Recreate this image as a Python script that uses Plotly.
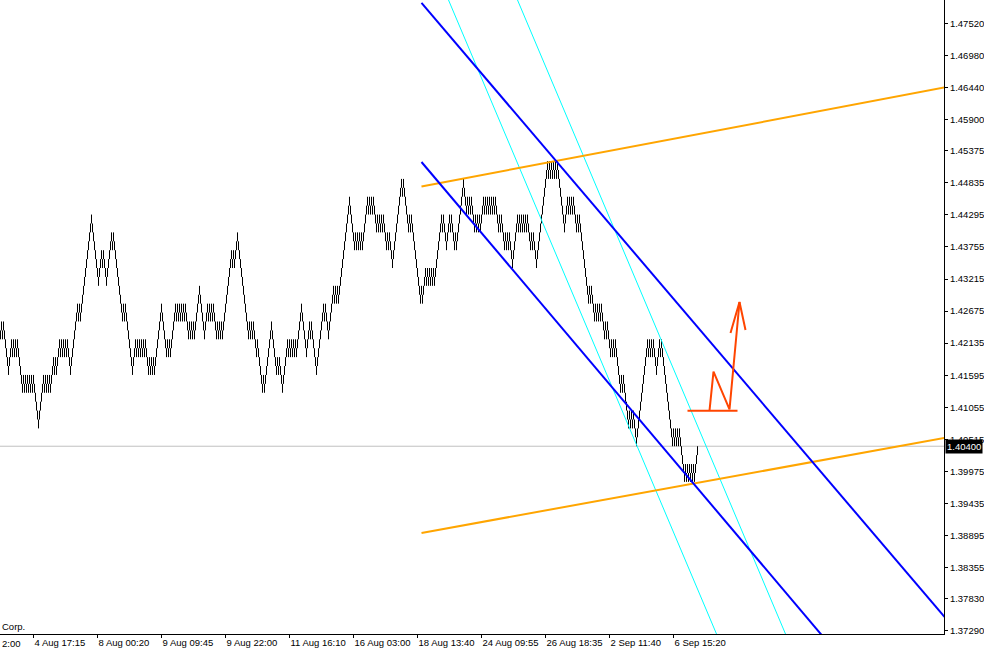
import plotly.graph_objects as go

# ---------------- data ----------------
BOX = 0.0015            # renko box size
LAST_CLOSE = 1.40400    # close of the last brick (current price)
START_LEVEL = 14        # close (in boxes above LAST_CLOSE) of the brick before the first one shown
START_DIR = "u"

# brick directions, left to right (one bar per pixel column)
brick_runs = [
    "dudud", "dddd", "uuu", "dududud", "dddd", "udududududu", "ddddd", "uuuu",
    "ududududu", "uu", "dudu", "uu", "dudududu", "ddd", "uuuuuu", "ududu",
    "uuuuuuuuuu", "ddddddd", "uuu", "du", "ddd", "uuuuu", "du", "dddddddd",
    "dudud", "dddddd", "uuu", "dududududud", "dd", "ududud", "uuuuuuu", "ddddd",
    "ududu", "uuuu", "dududududud", "dd", "ududud", "uuuuu", "ddddd", "uuu",
    "dududud", "dd", "ududud", "uuuuuuuu", "ududu", "uu", "dddddddddd", "dududu",
    "ddd", "ud", "dddd", "udu", "uuuuuu", "dddd", "dudud", "dd", "uuuuu",
    "dududududu", "uuuu", "ddddd", "uuu", "du", "ddddd", "uuuuuuu", "du", "ddd",
    "uuuuu", "dudud", "uuuuuuuuuuu", "ddddd", "ududududu", "uuuu", "dududu", "ddd",
    "udududud", "dd", "udud", "dd", "uuuuuuuuu", "du", "ddddd", "udud", "dddddddd",
    "ud", "uuu", "dududududu", "uuuuuu", "du", "ddd", "uuu", "du", "ddd", "ud",
    "uuuuuuu", "ddd", "ududud", "dd", "ududud", "uuu", "dudududududu", "ddd",
    "udud", "dd", "ududud", "dd", "uuuuu", "dududududud", "dd", "udud", "dd",
    "uuuuuuuuuuu", "dududududu", "ddddddd", "uuu", "dududud", "dd", "udud",
    "dddddddd", "udud", "dd", "udududud", "dd", "udud", "dd", "ududud", "dddd",
    "udud", "dddd", "ududud", "dd", "uuuuuuuuuuu", "dududud", "dd", "uuu", "dud",
    "ddddddddd", "dudududud", "dddd", "udududududu", "uu",
]

price_ticks = ["1.47520", "1.46980", "1.46440", "1.45900", "1.45375", "1.44835",
               "1.44295", "1.43755", "1.43215", "1.42675", "1.42135", "1.41595",
               "1.41055", "1.40515", "1.39975", "1.39435", "1.38895", "1.38355",
               "1.37830", "1.37290"]
time_tick_bars = [33, 97, 161, 225, 289, 353, 417, 481, 545, 609, 673]
time_tick_text = ["4 Aug 17:15", "8 Aug 00:20", "9 Aug 09:45", "9 Aug 22:00",
                  "11 Aug 16:10", "16 Aug 03:00", "18 Aug 13:40", "24 Aug 09:55",
                  "26 Aug 18:35", "2 Sep 11:40", "6 Sep 15:20"]

# drawn objects: anchor points (bar index, price)
orange_upper = ([421, 944], [1.44773, 1.46439])
orange_lower = ([421, 944], [1.38940, 1.40539])
blue_upper = ([421, 944], [1.47862, 1.37526])
blue_lower = ([421, 944], [1.45185, 1.34777])
cyan_1 = ([446, 718], [1.47992, 1.37160])
cyan_2 = ([515, 787], [1.47992, 1.37160])
arrow_base = ([687, 737], [1.40998, 1.40998])
arrow_stroke = ([709, 713, 729, 739], [1.40998, 1.41655, 1.41019, 1.42828])
arrow_head = ([730, 739, 745], [1.42307, 1.42828, 1.42358])

Y_MIN, Y_MAX = 1.37239, 1.47912

# ---------------- build bars ----------------
bricks = "".join(brick_runs)
bx, by = [], []
c = START_LEVEL
prev = START_DIR
for i, b in enumerate(bricks):
    d = 1 if b == "u" else -1
    c += d if b == prev else 2 * d
    prev = b
    lo, hi = (c - 1, c) if d == 1 else (c, c + 1)
    bx += [i, i, None]
    by += [LAST_CLOSE + lo * BOX, LAST_CLOSE + hi * BOX, None]

fig = go.Figure()
fig.add_shape(type="line", xref="paper", x0=0, x1=1, yref="y", y0=LAST_CLOSE, y1=LAST_CLOSE,
              line=dict(color="#C0C0C0", width=1), layer="below")

fig.add_trace(go.Scatter(x=bx, y=by, mode="lines", line=dict(color="black", width=1),
                         hoverinfo="skip", showlegend=False))


def add_line(pts, color, width):
    fig.add_trace(go.Scatter(x=pts[0], y=pts[1], mode="lines",
                             line=dict(color=color, width=width),
                             hoverinfo="skip", showlegend=False))


add_line(cyan_1, "#00FFFF", 1)
add_line(cyan_2, "#00FFFF", 1)
add_line(orange_upper, "#FFA500", 2)
add_line(orange_lower, "#FFA500", 2)
add_line(blue_upper, "#0000FF", 2)
add_line(blue_lower, "#0000FF", 2)
add_line(arrow_base, "#FF4500", 2)
add_line(arrow_stroke, "#FF4500", 2)
add_line(arrow_head, "#FF4500", 2)

FONT = dict(family="Liberation Sans, Arial, sans-serif", size=9.5, color="black")

fig.update_layout(
    width=984, height=651,
    margin=dict(l=0, r=40, t=0, b=17, autoexpand=False),
    paper_bgcolor="white", plot_bgcolor="white",
    showlegend=False,
    font=FONT,
    xaxis=dict(range=[-0.5, 943.5], showgrid=False, zeroline=False, automargin=False,
               showline=True, linecolor="black", linewidth=1, mirror=False,
               ticks="outside", ticklen=3, tickcolor="black", tickangle=0,
               tickvals=time_tick_bars, ticktext=time_tick_text,
               ticklabelposition="outside right", tickfont=FONT, fixedrange=True),
    yaxis=dict(range=[Y_MIN, Y_MAX], side="right", showgrid=False, zeroline=False,
               automargin=False,
               showline=True, linecolor="black", linewidth=1,
               ticks="outside", ticklen=3, tickcolor="black",
               tickvals=[float(t) for t in price_ticks], ticktext=price_ticks,
               tickfont=FONT, fixedrange=True),
    annotations=[
        dict(text="Corp.", xref="paper", yref="paper", x=0, y=0.0126,
             xanchor="left", yanchor="middle", showarrow=False, font=FONT),
        dict(text="2:00", xref="paper", yref="paper", x=0, y=-0.0142,
             xanchor="left", yanchor="middle", showarrow=False, font=FONT),
        dict(text="1.40400", xref="paper", yref="y", x=1, y=LAST_CLOSE,
             xanchor="left", yanchor="middle", xshift=1, showarrow=False,
             bgcolor="black", borderpad=1,
             font=dict(family=FONT["family"], size=9.5, color="white")),
    ],
)

fig.write_html("out.html", config={"displayModeBar": False},
               post_script="document.body.style.margin='0px';document.body.style.overflow='hidden';")
